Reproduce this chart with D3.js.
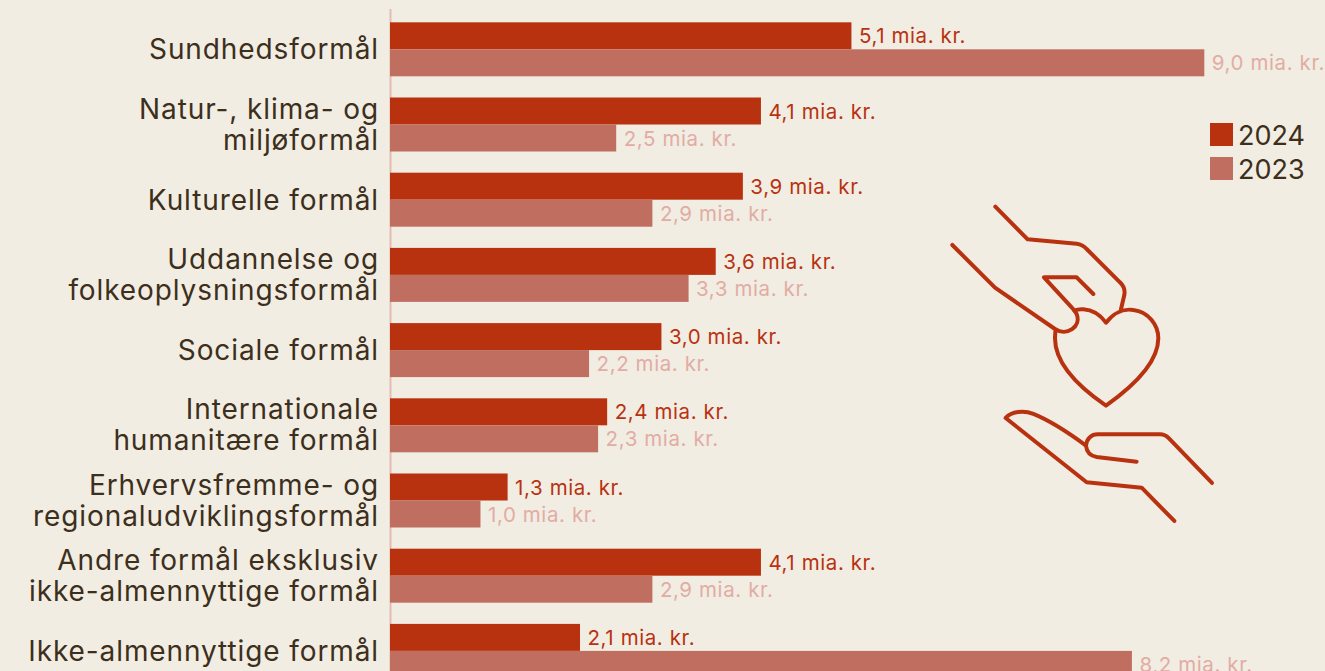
<!DOCTYPE html>
<html>
<head>
<meta charset="utf-8">
<script src="https://cdn.jsdelivr.net/npm/d3@7"></script>
<style>
html, body { margin: 0; padding: 0; background: #f1ede3; overflow: hidden; }
svg { display: block; }
</style>
</head>
<body>
<div id="graph"></div>
<script>
const categories = [
    ['Sundhedsformål'],
    ['Natur-, klima- og', 'miljøformål'],
    ['Kulturelle formål'],
    ['Uddannelse og', 'folkeoplysningsformål'],
    ['Sociale formål'],
    ['Internationale', 'humanitære formål'],
    ['Erhvervsfremme- og', 'regionaludviklingsformål'],
    ['Andre formål eksklusiv', 'ikke-almennyttige formål'],
    ['Ikke-almennyttige formål'],
]
const years = ['2024', '2023']
const values2024 = [5.1, 4.1, 3.9, 3.6, 3.0, 2.4, 1.3, 4.1, 2.1]
const values2023 = [9.0, 2.5, 2.9, 3.3, 2.2, 2.3, 1.0, 2.9, 8.2]

const w = 1325;
const h = 671;
const font = 'Inter, sans-serif';
const barColors = { '2024': '#b93210', '2023': '#bf6e60' };
const labelColors = { '2024': '#b93210', '2023': '#e2aca4' };
const textColor = '#3d2f1c';

const svg = d3.select('#graph').append('svg').attr('width', w).attr('height', h)

const x = d3.scaleLinear().domain([0, 9]).range([390, 1204.3])
const y = d3.scaleBand()
    .domain(d3.range(categories.length))
    .range([22.3, 22.3 + 9 * 75.2 - 21.2])
    .paddingInner(21.2 / 75.2)
    .paddingOuter(0)
const yInner = d3.scaleBand().domain(years).range([0, y.bandwidth()])

// axis line
svg.append('line')
    .attr('x1', 390.5).attr('x2', 390.5)
    .attr('y1', 9).attr('y2', h)
    .attr('stroke', '#e6bcb2')
    .attr('stroke-width', 2)

// bars and value labels
const series = { '2024': values2024, '2023': values2023 }
years.forEach(year => {
    const g = svg.append('g')
    g.selectAll('rect')
        .data(series[year])
        .enter()
        .append('rect')
        .attr('x', x(0))
        .attr('y', (d, i) => y(i) + yInner(year))
        .attr('width', d => x(d) - x(0))
        .attr('height', yInner.bandwidth())
        .attr('fill', barColors[year])
    g.selectAll('text')
        .data(series[year])
        .enter()
        .append('text')
        .attr('x', d => x(d) + 7.5)
        .attr('y', (d, i) => y(i) + yInner(year) + 21)
        .attr('font-family', font)
        .attr('font-size', '20.5px')
        .attr('letter-spacing', '0.6px')
        .attr('fill', labelColors[year])
        .text(d => d3.format('.1f')(d).replace('.', ',') + ' mia. kr.')
})

// category labels
const catLabels = svg.selectAll('.cat')
    .data(categories)
    .enter()
    .append('text')
    .attr('class', 'cat')
    .attr('text-anchor', 'end')
    .attr('font-family', font)
    .attr('font-size', '28px')
    .attr('letter-spacing', '0.9px')
    .attr('fill', textColor)
catLabels.each(function (lines, i) {
    const mid = y(i) + y.bandwidth() / 2
    d3.select(this).selectAll('tspan')
        .data(lines)
        .enter()
        .append('tspan')
        .attr('x', 379)
        .attr('y', (d, k) => lines.length === 1 ? mid + 10 : mid - 6 + k * 31)
        .text(d => d)
})

// legend
const legend = svg.selectAll('.legend')
    .data(years)
    .enter()
    .append('g')
    .attr('class', 'legend')
    .attr('transform', (d, i) => `translate(1210,${123 + i * 34})`)
legend.append('rect')
    .attr('width', 23)
    .attr('height', 23)
    .attr('fill', d => barColors[d])
legend.append('text')
    .attr('x', 28)
    .attr('y', 22)
    .attr('font-family', font)
    .attr('font-size', '27px')
    .attr('fill', textColor)
    .text(d => d)

// hands and heart icon, drawn in a 3x grid
const icon = svg.append('g')
    .attr('transform', 'translate(940,190) scale(0.3333)')
    .attr('fill', 'none')
    .attr('stroke', '#b93210')
    .attr('stroke-width', 12)
    .attr('stroke-linecap', 'round')
    .attr('stroke-linejoin', 'round')
const iconPaths = [
    'M166,50 L263,148 L410,161 Q428,163 440,177 L540,277 Q557,293 553,315 L543,358',
    'M37,165 L165,293 L345,417 C380,440 425,410 410,372 Q405,362 395,352 L312,262 L410,262 L460,312',
    'M403,362 Q415,357 430,358 Q470,360 498,398 C520,370 550,355 580,360 C625,365 655,405 655,445 C655,510 600,575 498,647 C400,580 345,510 345,445 L346,425',
    'M438,767 C385,728 330,692 280,672 C250,660 215,665 197,684 L440,877 L605,893 L703,993',
    'M816,879 L687,745 Q675,733 660,733 L473,733 C455,733 440,745 438,767 C440,785 450,798 470,801 L590,815',
]
icon.selectAll('path')
    .data(iconPaths)
    .enter()
    .append('path')
    .attr('d', d => d)
</script>
</body>
</html>
